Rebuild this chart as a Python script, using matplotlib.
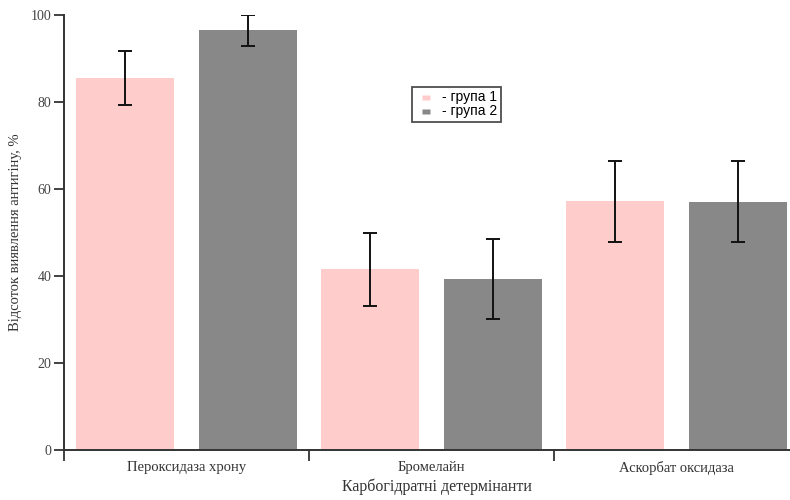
import matplotlib
matplotlib.use("Agg")
import matplotlib.pyplot as plt
import numpy as np
from matplotlib.lines import Line2D

categories = ["Пероксидаза хрону", "Бромелайн", "Аскорбат оксидаза"]
group1 = [85.5, 41.5, 57.2]
group1_err = [6.2, 8.4, 9.3]
group2 = [96.5, 39.4, 57.1]
group2_err = [3.6, 9.2, 9.3]
series_labels = ["- група 1", "- група 2"]
y_ticks = [0, 20, 40, 60, 80, 100]

serif = ["Liberation Serif", "DejaVu Serif"]
sans = ["Liberation Sans", "DejaVu Sans"]

fig = plt.figure(figsize=(7.9, 5.0), dpi=100)
ax = fig.add_axes([64 / 790, 0.10, 1 - 64 / 790, 0.87])

x = np.arange(len(categories))
width = 0.40
c1, c2 = "#ffcccc", "#888888"

ax.bar(x - 0.25, group1, width, color=c1, zorder=2)
ax.bar(x + 0.25, group2, width, color=c2, zorder=2)
ekw = dict(fmt="none", ecolor="#111111", elinewidth=1.4, capsize=5, capthick=1.4, zorder=3)
ax.errorbar(x - 0.25, group1, yerr=group1_err, **ekw)
ax.errorbar(x + 0.25, group2, yerr=group2_err, **ekw)

ax.set_xlim(-0.5, 2.463)
ax.set_ylim(0, 100)

for s in ("top", "right"):
    ax.spines[s].set_visible(False)
for s in ("left", "bottom"):
    ax.spines[s].set_linewidth(1.4)
    ax.spines[s].set_color("#333333")

ax.set_yticks(y_ticks)
ax.set_yticklabels([str(v) for v in y_ticks], fontfamily=serif, fontsize=10, color="#444444")
ax.tick_params(axis="y", direction="out", length=7, width=1.3, color="#333333", pad=2)

ax.set_xticks(x)
ax.set_xticklabels(categories, fontfamily=serif, fontsize=10.5, color="#333333")
ax.tick_params(axis="x", which="major", length=0, pad=8)
ax.set_xticks([-0.5, 0.5, 1.5], minor=True)
ax.tick_params(axis="x", which="minor", direction="out", length=8, width=1.3, color="#333333")

ax.set_xlabel("Карбогідратні детермінанти", fontfamily=serif, fontsize=11.5,
              color="#333333")
ax.xaxis.set_label_coords((437 - 64) / 726, -0.065)
ax.set_ylabel("Відсоток виявлення антигіну, %", fontfamily=serif, fontsize=10.5,
              color="#333333", labelpad=6)

# flat rectangular swatches for the legend
swatch = [(-1, -0.6), (1, -0.6), (1, 0.6), (-1, 0.6), (-1, -0.6)]
handles = [Line2D([], [], linestyle="none", marker=swatch, markersize=6,
                  markerfacecolor=c, markeredgecolor="none") for c in (c1, c2)]
leg = fig.legend(handles, series_labels, loc="upper left",
                 bbox_to_anchor=(412 / 790, 1 - 87 / 500),
                 prop={"family": sans, "size": 10}, frameon=True, fancybox=False,
                 handlelength=1.5, handletextpad=0.4,
                 borderpad=0.25, labelspacing=0.0, borderaxespad=0)
leg.get_frame().set_edgecolor("#222222")
leg.get_frame().set_linewidth(1.3)

fig.savefig("out.png", dpi=100, facecolor="white")
